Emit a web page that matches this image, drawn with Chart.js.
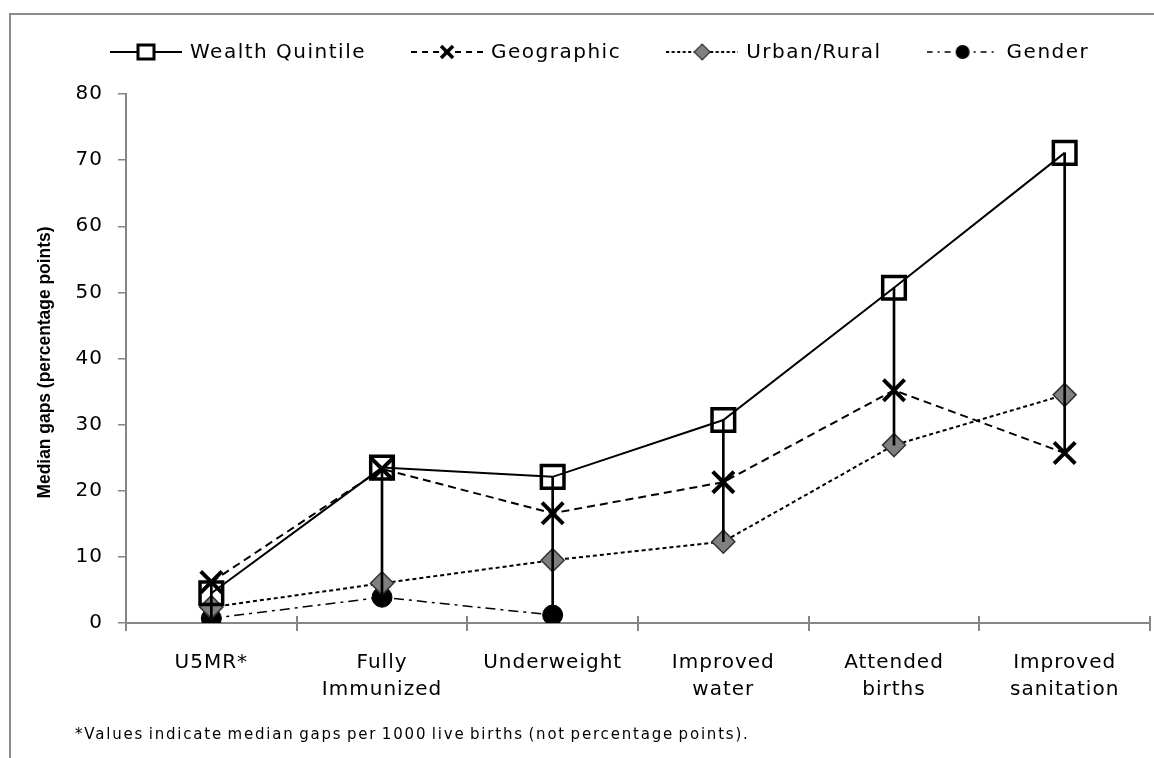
<!DOCTYPE html>
<html>
<head>
<meta charset="utf-8">
<script src="https://cdn.jsdelivr.net/npm/chart.js@4.4.1/dist/chart.umd.min.js"></script>
<style>
  html, body { margin: 0; padding: 0; background: #fff; }
  #wrap { position: relative; width: 1154px; height: 758px; }
</style>
</head>
<body>
<div id="wrap"><canvas id="c" width="1154" height="758"></canvas></div>
<script>
// ---- Data ----
const categories = ['U5MR*', ['Fully', 'Immunized'], 'Underweight', ['Improved', 'water'], ['Attended', 'births'], ['Improved', 'sanitation']];
const wealthQuintile = [4.5, 23.5, 22.1, 30.7, 50.7, 71.1];
const geographic     = [6.2, 23.3, 16.6, 21.3, 35.2, 25.7];
const urbanRural     = [2.4, 6.0, 9.5, 12.3, 26.9, 34.5];
const gender         = [0.7, 3.9, 1.2, null, null, null];
const seriesNames = ['Wealth Quintile', 'Geographic', 'Urban/Rural', 'Gender'];
const yTicks = [0, 10, 20, 30, 40, 50, 60, 70, 80];
const yTitle = 'Median gaps (percentage points)';
const footnote = '*Values indicate median gaps per 1000 live births (not percentage points).';

// high-low ranges derived from the series
const allSeries = [wealthQuintile, geographic, urbanRural, gender];
const highLow = categories.map((_, i) => {
  const vals = allSeries.map(s => s[i]).filter(v => v !== null && v !== undefined);
  return [Math.min(...vals), Math.max(...vals)];
});

// ---- legend sample images ----
function legendImg(kind) {
  const c = document.createElement('canvas');
  c.width = 72; c.height = 24;
  const g = c.getContext('2d');
  const cy = 12, cx = 36;
  g.strokeStyle = '#000';
  g.lineWidth = 2;
  if (kind === 0) g.setLineDash([]);
  if (kind === 1) g.setLineDash([6, 5]);
  if (kind === 2) g.setLineDash([3, 2.5]);
  if (kind === 3) { g.setLineDash([6, 5, 2, 5]); g.lineWidth = 1.5; }
  g.beginPath(); g.moveTo(0, cy); g.lineTo(72, cy); g.stroke();
  g.setLineDash([]);
  if (kind === 0) {
    g.fillStyle = '#fff'; g.lineWidth = 3;
    g.fillRect(cx - 8, cy - 7, 16, 14);
    g.strokeRect(cx - 8, cy - 7, 16, 14);
  } else if (kind === 1) {
    g.lineWidth = 3.5;
    g.beginPath();
    g.moveTo(cx - 6, cy - 6); g.lineTo(cx + 6, cy + 6);
    g.moveTo(cx + 6, cy - 6); g.lineTo(cx - 6, cy + 6);
    g.stroke();
  } else if (kind === 2) {
    g.fillStyle = '#808080'; g.lineWidth = 1.2; g.strokeStyle = '#333';
    g.beginPath();
    g.moveTo(cx - 8, cy); g.lineTo(cx, cy - 8); g.lineTo(cx + 8, cy); g.lineTo(cx, cy + 8); g.closePath();
    g.fill(); g.stroke();
  } else {
    g.fillStyle = '#000';
    g.beginPath(); g.ellipse(cx, cy, 7, 7, 0, 0, Math.PI * 2); g.fill();
  }
  return c;
}
const legendImages = [0, 1, 2, 3].map(legendImg);

const decorPlugin = {
  id: 'decor',
  beforeInit(chart) { chart.ctx.letterSpacing = '1px'; },
  beforeLayout(chart) { chart.ctx.letterSpacing = '1px'; },
  beforeDraw(chart) {
    const ctx = chart.ctx;
    ctx.letterSpacing = '1px';
    ctx.save();
    ctx.fillStyle = '#fff';
    ctx.fillRect(0, 0, chart.width, chart.height);
    ctx.strokeStyle = '#8c8c8c';
    ctx.lineWidth = 2;
    ctx.strokeRect(10, 14, 1200, 800);
    ctx.restore();
  },
  afterDatasetsDraw(chart) {
    // upper half of the crossing x-axis tick marks
    const ctx = chart.ctx, xs = chart.scales.x, area = chart.chartArea;
    ctx.save();
    ctx.strokeStyle = '#868686';
    ctx.lineWidth = 2;
    ctx.beginPath();
    for (let i = 0; i <= categories.length; i++) {
      const px = Math.round(xs.getPixelForValue(i - 0.5));
      ctx.moveTo(px, area.bottom - 7);
      ctx.lineTo(px, area.bottom);
    }
    ctx.stroke();
    ctx.restore();
  },
  afterDraw(chart) {
    const ctx = chart.ctx, area = chart.chartArea;
    ctx.save();
    // y-axis title
    ctx.letterSpacing = '0px';
    ctx.font = 'bold 19px "Liberation Sans"';
    ctx.fillStyle = '#000';
    ctx.textAlign = 'center';
    ctx.textBaseline = 'middle';
    ctx.save();
    ctx.translate(45, (area.top + area.bottom) / 2 + 4);
    ctx.rotate(-Math.PI / 2);
    const tw = ctx.measureText(yTitle).width;
    ctx.scale(272 / tw, 1);
    ctx.fillText(yTitle, 0, 0);
    ctx.restore();
    // legend
    ctx.letterSpacing = '1.5px';
    ctx.font = '20px "DejaVu Sans"';
    ctx.textBaseline = 'middle';
    ctx.textAlign = 'left';
    let x = 110;
    const ly = 52;
    seriesNames.forEach((name, i) => {
      const img = legendImages[i];
      ctx.drawImage(img, x, ly - img.height / 2);
      const tx = x + img.width + 8;
      ctx.fillText(name, tx, ly + 1);
      x = tx + ctx.measureText(name).width + 45;
    });
    // footnote
    ctx.letterSpacing = '1.8px';
    ctx.wordSpacing = '-2px';
    ctx.font = '15px "DejaVu Sans"';
    ctx.textBaseline = 'alphabetic';
    ctx.fillText(footnote, 75, 739);
    ctx.restore();
  }
};

const tickFont = { family: '"DejaVu Sans"', size: 20 };

new Chart(document.getElementById('c'), {
  data: {
    labels: categories,
    datasets: [
      {
        type: 'line', label: seriesNames[0], data: wealthQuintile, order: 1,
        borderColor: '#000', borderWidth: 2, pointStyle: 'rect', pointRadius: 16,
        pointBackgroundColor: 'rgba(255,255,255,0)', pointBorderColor: '#000', pointBorderWidth: 3.5
      },
      {
        type: 'line', label: seriesNames[1], data: geographic, order: 1,
        borderColor: '#000', borderWidth: 2, borderDash: [8, 5], pointStyle: 'crossRot', pointRadius: 15,
        pointBorderColor: '#000', pointBorderWidth: 4
      },
      {
        type: 'line', label: seriesNames[2], data: urbanRural, order: 1,
        borderColor: '#000', borderWidth: 2, borderDash: [4, 3], pointStyle: 'rectRot', pointRadius: 11.5,
        pointBackgroundColor: '#808080', pointBorderColor: '#333', pointBorderWidth: 1.5
      },
      {
        type: 'line', label: seriesNames[3], data: gender, order: 1,
        borderColor: '#000', borderWidth: 1.5, borderDash: [10, 5, 3, 5], pointStyle: 'circle', pointRadius: 10,
        pointBackgroundColor: '#000', pointBorderColor: '#000', pointBorderWidth: 1, spanGaps: false
      },
      {
        type: 'bar', label: 'highlow', data: highLow, order: 0,
        backgroundColor: '#000', borderWidth: 0, barThickness: 2, grouped: false
      }
    ]
  },
  options: {
    responsive: false,
    animation: false,
    layout: { autoPadding: false, padding: { left: 46, right: 4, top: 94, bottom: 0 } },
    plugins: {
      tooltip: { enabled: false },
      legend: { display: false }
    },
    scales: {
      x: {
        offset: true,
        grid: { display: true, drawOnChartArea: false, offset: true, tickLength: 8, color: '#868686', lineWidth: 2 },
        border: { display: true, color: '#868686', width: 2 },
        ticks: { font: { ...tickFont, lineHeight: 1.35 }, color: '#000', padding: 18, maxRotation: 0, autoSkip: false },
        afterFit(scale) { scale.height = 135; scale.paddingLeft = 0; scale.paddingRight = 0; }
      },
      y: {
        min: 0, max: 80,
        afterBuildTicks(scale) { scale.ticks = yTicks.map(v => ({ value: v })); },
        grid: { display: true, drawOnChartArea: false, tickLength: 8, color: '#868686', lineWidth: 1.5 },
        border: { display: true, color: '#868686', width: 2 },
        ticks: { font: tickFont, color: '#000', padding: 15 },
        title: { display: false },
        afterFit(scale) { scale.width = 80; scale.paddingTop = 0; scale.paddingBottom = 0; }
      }
    }
  },
  plugins: [decorPlugin]
});
</script>
</body>
</html>
